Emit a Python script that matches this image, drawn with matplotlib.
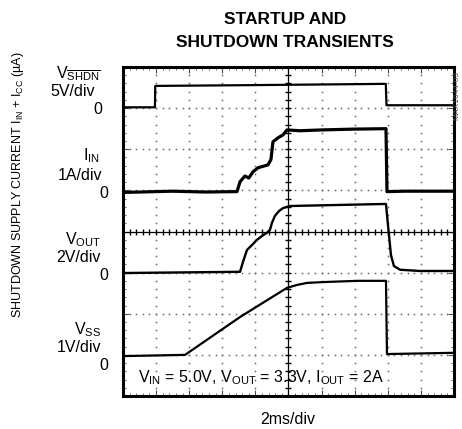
import numpy as np
import matplotlib
matplotlib.use('Agg')
import matplotlib.pyplot as plt

plt.rcParams['font.family'] = ['Liberation Sans', 'DejaVu Sans']
plt.rcParams['mathtext.fontset'] = 'custom'
plt.rcParams['mathtext.rm'] = 'Liberation Sans'
plt.rcParams['mathtext.it'] = 'Liberation Sans:italic'
plt.rcParams['mathtext.bf'] = 'Liberation Sans:bold'

# scope settings: 2ms/div, 10 x 8 divisions
ms_per_div = 2.0

# V_SHDN (5V/div, zero at div 7)
t_shdn = [0, 1.93, 1.95, 8.0, 15.88, 15.92, 20]
v_shdn = [0.1, 0.1, 2.7, 2.8, 2.95, 0.35, 0.35]

# I_IN (1A/div, zero at div 5)
t_in = [0, 3.0, 5.0, 6.89, 7.07, 7.37, 7.6, 7.85, 8.16, 8.76, 8.94, 9.06, 9.37, 9.67, 9.91,
        10.69, 12.0, 14.0, 15.89, 15.95, 17.0, 20]
i_in = [-0.05, -0.02, -0.04, -0.03, 0.21, 0.35, 0.3, 0.45, 0.55, 0.62, 0.75, 1.18, 1.28, 1.35, 1.47,
        1.45, 1.47, 1.49, 1.5, -0.03, -0.02, -0.02]

# V_OUT (2V/div, zero at div 3)
t_out = [0, 7.07, 7.25, 7.49, 7.79, 8.10, 8.40, 8.70, 8.88, 9.00, 9.18, 9.43, 9.67, 10.09,
         15.89, 16.01, 16.19, 16.37, 16.74, 17.95, 20]
v_out = [-0.02, 0.04, 0.52, 1.10, 1.34, 1.60, 1.78, 1.94, 2.08, 2.42, 2.76, 3.0, 3.14, 3.24,
         3.34, 2.32, 0.86, 0.32, 0.14, 0.08, 0.08]

# V_SS (1V/div, zero at div 1)
t_ss = [0, 3.75, 7.07, 9.91, 10.51, 11.12, 12.08, 14.14, 15.89, 15.95, 20]
v_ss = [-0.03, 0.0, 0.92, 1.63, 1.70, 1.75, 1.77, 1.80, 1.80, 0.02, 0.05]

fig = plt.figure(figsize=(4.62, 4.29), dpi=100)
ax = fig.add_axes([123/462, 1-396/429, 331/462, 329/429])
ax.set_xlim(0, 20)
ax.set_ylim(0, 8)

# graticule dots
for gx in range(1, 10):
    if gx == 5:
        continue
    yy = np.arange(0, 8.01, 0.2)
    ax.plot(np.full_like(yy, gx*ms_per_div), yy, ls='none', marker='s', ms=1.1, color='0.4', mec='none')
for gy in range(1, 8):
    if gy == 4:
        continue
    xx = np.arange(0, 20.01, 0.4)
    ax.plot(xx, np.full_like(xx, gy), ls='none', marker='s', ms=1.1, color='0.4', mec='none')

# center axes with ticks
ax.axvline(10, color='k', lw=0.9)
ax.axhline(4, color='k', lw=0.9)
yy = np.arange(0, 8.01, 0.2)
ax.plot(np.full_like(yy, 10), yy, ls='none', marker='_', ms=5, mew=1.0, color='k')
xx = np.arange(0, 20.01, 0.4)
ax.plot(xx, np.full_like(xx, 4), ls='none', marker='|', ms=5, mew=1.0, color='k')

# traces
ax.plot(t_shdn, 7 + np.array(v_shdn)/5.0, color='k', lw=1.6)
ax.plot(t_in, 5 + np.array(i_in)/1.0, color='k', lw=2.3)
ax.plot(t_out, 3 + np.array(v_out)/2.0, color='k', lw=1.7)
ax.plot(t_ss, 1 + np.array(v_ss)/1.0, color='k', lw=1.6)

ax.set_xticks(np.arange(0, 20.01, 2))
ax.set_yticks(np.arange(0, 8.01, 1))
ax.set_xticks(np.arange(0, 20.01, 0.4), minor=True)
ax.set_yticks(np.arange(0, 8.01, 0.2), minor=True)
ax.tick_params(which='both', direction='in', top=True, right=True,
               labelbottom=False, labelleft=False, color='0.3')
ax.tick_params(which='major', length=4, width=0.8)
ax.tick_params(which='minor', length=2, width=0.6)
for s in ax.spines.values():
    s.set_linewidth(2.2)

ax.text(0.045, 0.055, r'V$_{\mathrm{IN}}$ = 5.0V, V$_{\mathrm{OUT}}$ = 3.3V, I$_{\mathrm{OUT}}$ = 2A',
        transform=ax.transAxes, fontsize=11.5, ha='left', va='center')

def px(x, y):
    return x/462, 1 - y/429

fs = 11.5
labels = [
    (r'V$_{\overline{\mathrm{SHDN}}}$', 101, 74),
    ('5V/div', 95, 92),
    ('0', 102, 110),
    (r'I$_{\mathrm{IN}}$', 100, 156),
    ('1A/div', 102, 176),
    ('0', 108, 193),
    (r'V$_{\mathrm{OUT}}$', 101, 240),
    ('2V/div', 101, 258),
    ('0', 108, 276),
    (r'V$_{\mathrm{SS}}$', 101, 330),
    ('1V/div', 101, 348),
    ('0', 108, 366),
]
for txt, x, y in labels:
    fx, fy = px(x, y)
    fig.text(fx, fy, txt, fontsize=fs, ha='right', va='center')

fx, fy = px(285, 31)
fig.text(fx, fy, 'STARTUP AND\nSHUTDOWN TRANSIENTS', fontsize=12.5, fontweight='bold',
         ha='center', va='center', linespacing=1.6)

fx, fy = px(288, 420)
fig.text(fx, fy, '2ms/div', fontsize=11.5, ha='center', va='center')

fx, fy = px(18, 185)
fig.text(fx, fy, r'SHUTDOWN SUPPLY CURRENT I$_{\mathrm{IN}}$ + I$_{\mathrm{CC}}$ (µA)',
         fontsize=9, rotation=90, ha='center', va='center')

fx, fy = px(457, 95)
fig.text(fx, fy, 'MAX1644-09', fontsize=6, rotation=90, ha='center', va='center', color='0.3')

fig.savefig('out.png', dpi=100)
